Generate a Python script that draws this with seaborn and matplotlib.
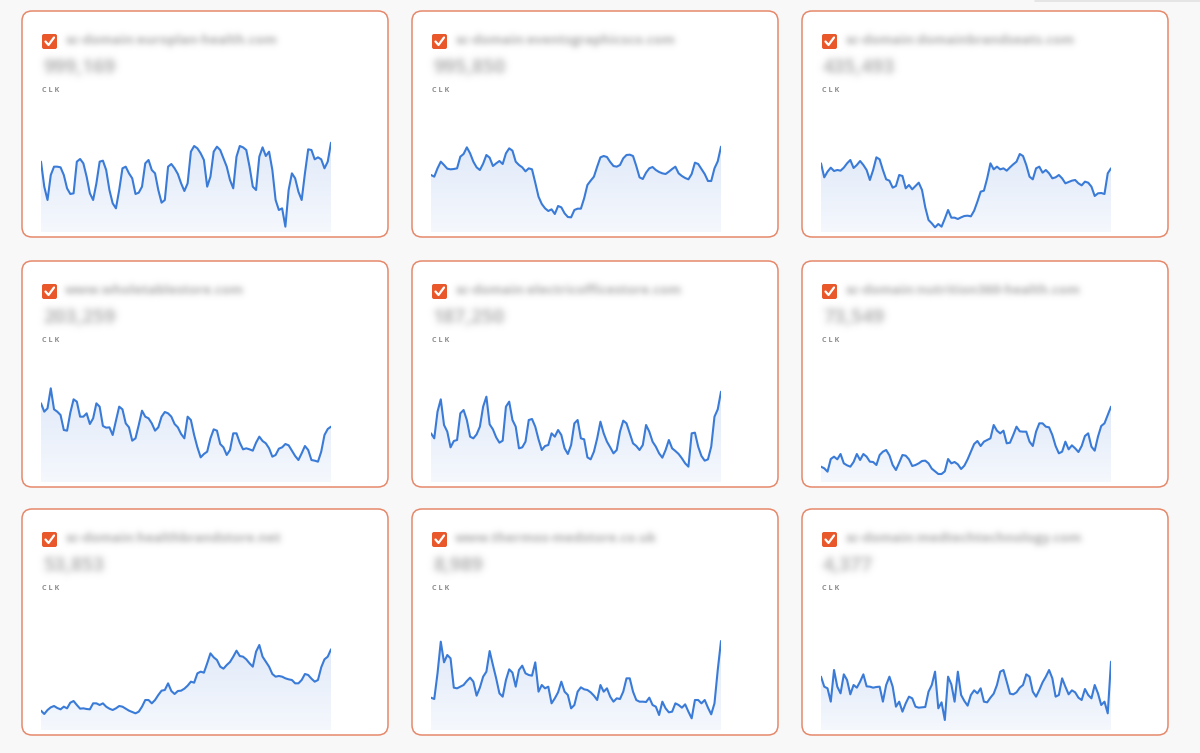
import numpy as np
import matplotlib
matplotlib.use("Agg")
import matplotlib.pyplot as plt
import seaborn as sns
from matplotlib.patches import FancyBboxPatch
from matplotlib.lines import Line2D
from matplotlib.colors import LinearSegmentedColormap, to_rgb

W, H = 1200, 753

domains = [
    "sc-domain:europlan-health.com",
    "sc-domain:eventsgraphicsco.com",
    "sc-domain:domainbrandseats.com",
    "www.wholetablestore.com",
    "sc-domain:electricofficestore.com",
    "sc-domain:nutrition360-health.com",
    "sc-domain:healthbrandstore.net",
    "www.thermos-medstore.co.uk",
    "sc-domain:medtechtechnology.com",
]
totals = ["999,169", "995,850", "435,493", "203,259", "187,250",
          "73,549", "53,853", "8,989", "4,377"]
metric_label = "C L K"

clk_1 = [211, 136, 96, 171, 196, 196, 194, 171, 131, 114, 116, 211, 219, 206, 166, 116, 96, 146, 211, 214,
         186, 126, 86, 71, 126, 191, 196, 176, 161, 114, 118, 136, 206, 216, 186, 176, 126, 88, 96, 196,
         204, 191, 174, 146, 123, 146, 241, 258, 251, 236, 216, 136, 166, 241, 256, 246, 221, 196, 156, 131,
         226, 258, 254, 246, 196, 136, 126, 226, 254, 228, 241, 186, 96, 66, 71, 16, 126, 176, 161, 121,
         96, 176, 248, 246, 218, 224, 218, 191, 211, 268]
clk_2 = [171, 166, 191, 211, 201, 190, 188, 189, 191, 226, 234, 254, 236, 211, 194, 186, 205, 231, 223, 198,
         206, 213, 204, 236, 251, 244, 211, 201, 194, 182, 191, 188, 148, 106, 84, 71, 63, 68, 54, 78,
         74, 56, 45, 44, 66, 70, 70, 101, 141, 154, 166, 196, 224, 228, 225, 210, 198, 196, 201, 221,
         231, 232, 228, 198, 164, 159, 178, 191, 195, 186, 180, 176, 174, 181, 189, 196, 176, 168, 162, 158,
         174, 208, 204, 189, 174, 153, 153, 191, 212, 256]
clk_3 = [206, 164, 181, 193, 183, 186, 184, 193, 206, 216, 192, 201, 213, 201, 186, 156, 186, 224, 218, 186,
         158, 154, 133, 138, 171, 168, 131, 141, 128, 138, 148, 126, 74, 36, 26, 14, 24, 16, 40, 66,
         43, 43, 39, 44, 48, 49, 47, 64, 91, 121, 124, 161, 206, 188, 196, 188, 191, 184, 194, 203,
         211, 234, 228, 201, 166, 158, 191, 196, 178, 186, 176, 161, 164, 171, 161, 146, 150, 154, 156, 146,
         140, 151, 148, 136, 108, 116, 117, 114, 176, 191]
clk_4 = [236, 211, 221, 281, 218, 211, 201, 156, 154, 208, 248, 241, 196, 196, 206, 174, 191, 236, 226, 168,
         163, 164, 141, 184, 226, 218, 176, 164, 124, 131, 171, 214, 196, 191, 176, 154, 164, 196, 210, 206,
         196, 174, 164, 144, 131, 196, 186, 141, 104, 74, 84, 91, 131, 158, 154, 114, 104, 81, 96, 146,
         146, 118, 98, 101, 98, 94, 118, 136, 123, 116, 101, 76, 81, 100, 104, 114, 110, 94, 78, 66,
         86, 108, 96, 66, 64, 61, 91, 141, 159, 166]
clk_5 = [146, 131, 211, 248, 171, 151, 104, 123, 126, 206, 216, 186, 136, 131, 143, 166, 226, 256, 173, 158,
         134, 118, 124, 226, 241, 186, 166, 101, 104, 121, 186, 189, 166, 128, 96, 108, 111, 146, 136, 156,
         141, 101, 84, 111, 176, 186, 131, 128, 74, 68, 91, 131, 181, 146, 121, 104, 86, 96, 151, 184,
         176, 146, 116, 108, 96, 111, 171, 151, 121, 106, 86, 73, 96, 126, 101, 93, 84, 71, 56, 46,
         146, 148, 106, 78, 64, 68, 106, 196, 218, 271]
clk_6 = [46, 41, 31, 69, 76, 68, 84, 56, 50, 46, 60, 84, 66, 84, 76, 61, 60, 51, 81, 91,
         96, 80, 51, 36, 58, 81, 79, 68, 48, 51, 56, 63, 64, 56, 40, 32, 24, 24, 32, 69,
         56, 60, 53, 39, 49, 68, 91, 114, 123, 108, 121, 126, 131, 171, 154, 146, 154, 116, 118, 141,
         166, 152, 151, 151, 121, 108, 151, 176, 176, 166, 164, 141, 108, 86, 91, 121, 98, 110, 101, 90,
         108, 138, 146, 106, 94, 136, 168, 176, 201, 226]
clk_7 = [58, 48, 60, 68, 72, 66, 62, 70, 65, 82, 87, 75, 64, 65, 63, 62, 80, 80, 75, 80,
         70, 64, 60, 65, 72, 70, 64, 58, 54, 50, 55, 70, 90, 90, 80, 90, 105, 118, 120, 140,
         117, 108, 117, 118, 124, 133, 145, 142, 170, 175, 172, 200, 230, 218, 210, 190, 184, 195, 204, 220,
         238, 222, 220, 212, 200, 190, 235, 255, 220, 205, 190, 168, 160, 162, 160, 155, 152, 150, 140, 140,
         150, 168, 165, 154, 145, 150, 188, 212, 220, 242]
clk_8 = [97, 93, 170, 265, 203, 225, 215, 127, 125, 130, 135, 147, 157, 145, 103, 127, 160, 175, 237, 195,
         155, 110, 100, 150, 182, 172, 130, 180, 193, 170, 165, 163, 203, 115, 135, 125, 130, 80, 95, 113,
         145, 115, 105, 65, 75, 115, 128, 122, 120, 113, 103, 90, 135, 115, 125, 100, 85, 95, 93, 115,
         155, 155, 115, 90, 85, 85, 84, 97, 75, 70, 45, 85, 65, 53, 55, 80, 75, 67, 77, 55,
         35, 90, 90, 80, 90, 67, 47, 80, 180, 267]
clk_9 = [160, 130, 125, 85, 180, 130, 110, 167, 150, 107, 135, 127, 145, 167, 131, 130, 127, 129, 130, 85,
         135, 160, 130, 70, 85, 55, 80, 100, 95, 70, 67, 68, 69, 115, 135, 175, 65, 83, 30, 160,
         137, 85, 175, 105, 87, 73, 105, 119, 110, 125, 85, 83, 97, 109, 135, 175, 180, 145, 109, 107,
         113, 127, 135, 167, 160, 115, 100, 120, 143, 160, 180, 155, 100, 105, 155, 130, 107, 119, 113, 97,
         90, 123, 105, 95, 135, 110, 75, 85, 50, 205]
series = [clk_1, clk_2, clk_3, clk_4, clk_5, clk_6, clk_7, clk_8, clk_9]

Y_MAX = 336

sns.set_theme(style="white")
plt.rcParams['font.family'] = ['Open Sans', 'DejaVu Sans']

LINE = "#3a7bd8"
BORDER = "#e6896b"
CHECK = "#e8582a"
BG = "#f8f8f8"


class Blur:
    def __init__(self, sigma, color):
        self.sigma = sigma
        self.color = to_rgb(color)

    def __call__(self, im, dpi):
        r = int(3 * self.sigma) + 1
        a = np.pad(im[..., 3], [(r, r), (r, r)], "constant")
        xs = np.arange(-r, r + 1)
        k = np.exp(-xs ** 2 / (2 * self.sigma ** 2))
        k /= k.sum()
        tmp = np.zeros_like(a)
        for i, w in zip(xs, k):
            tmp += w * np.roll(a, i, axis=0)
        out_a = np.zeros_like(a)
        for i, w in zip(xs, k):
            out_a += w * np.roll(tmp, i, axis=1)
        out = np.zeros(a.shape + (4,))
        out[..., 0], out[..., 1], out[..., 2] = self.color
        out[..., 3] = np.clip(out_a * 1.15, 0, 1)
        return out, -r, -r


fig = plt.figure(figsize=(W / 100, H / 100), dpi=100)
fig.patch.set_facecolor(BG)
T = fig.dpi_scale_trans


def P(x, y):
    return (x / 100, (H - y) / 100)


card_x = [22, 412, 802]
card_y = [11, 261, 509]
card_w, card_h = 366, 226

grad_cmap = LinearSegmentedColormap.from_list("g", ["#f5f8fd", "#e1eaf9"])

# faint element edge top-right
fig.add_artist(Line2D([1035 / 100, 1200 / 100], [(H - 0.5) / 100] * 2, transform=T,
                      color="#e2e2e2", lw=1.2, zorder=-2))

for k in range(9):
    r, c = divmod(k, 3)
    cx, cy = card_x[c], card_y[r]
    fig.add_artist(FancyBboxPatch(P(cx, cy + card_h), card_w / 100, card_h / 100,
                                  boxstyle="round,pad=0,rounding_size=0.1", transform=T,
                                  fc="white", ec=BORDER, lw=1.1, zorder=-1))
    # checkbox
    fig.add_artist(FancyBboxPatch(P(cx + 20, cy + 38), 0.15, 0.15,
                                  boxstyle="round,pad=0,rounding_size=0.02", transform=T,
                                  fc=CHECK, ec="none", zorder=2))
    pts = [P(cx + 23.5, cy + 30.5), P(cx + 26.5, cy + 34.0), P(cx + 32.0, cy + 26.5)]
    fig.add_artist(Line2D([p[0] for p in pts], [p[1] for p in pts], transform=T,
                          color="white", lw=1.6, solid_capstyle="round",
                          solid_joinstyle="round", zorder=3))
    t1 = fig.text(*P(cx + 43, cy + 29.5), domains[k], transform=T, fontsize=9.6,
                  color="#b4b4b4", va="center", ha="left", fontweight="bold")
    t1.set_agg_filter(Blur(3.0, "#b4b4b4"))
    t2 = fig.text(*P(cx + 21, cy + 57), totals[k], transform=T, fontsize=14,
                  color="#bdbdbd", va="center", ha="left", fontweight="bold")
    t2.set_agg_filter(Blur(3.4, "#bdbdbd"))
    fig.text(*P(cx + 20, cy + 79.5), metric_label, transform=T, fontsize=5.2,
             color="#8e8e8e", va="center", ha="left", fontweight="bold")

    # chart
    ax = fig.add_axes([(cx + 19) / W, (H - (cy + 221)) / H, 290 / W, 112 / H])
    ax.set_zorder(1)
    ax.patch.set_visible(False)
    vals = np.array(series[k], dtype=float)
    n = len(vals)
    idx = np.arange(n)
    poly = ax.fill_between(idx, vals, 0, facecolor="none", edgecolor="none")
    top = vals.max()
    grad = np.linspace(0, 1, 256).reshape(-1, 1)
    im = ax.imshow(grad, aspect="auto", cmap=grad_cmap, origin="lower",
                   extent=[0, n - 1, 0, top], interpolation="bilinear", zorder=1)
    im.set_clip_path(poly.get_paths()[0], transform=ax.transData)
    sns.lineplot(x=idx, y=vals, ax=ax, color=LINE, linewidth=1.5, zorder=3)
    ax.set_xlim(0, n - 1)
    ax.set_ylim(0, Y_MAX)
    ax.set_axis_off()

fig.savefig("out.png", dpi=100, facecolor=BG)
